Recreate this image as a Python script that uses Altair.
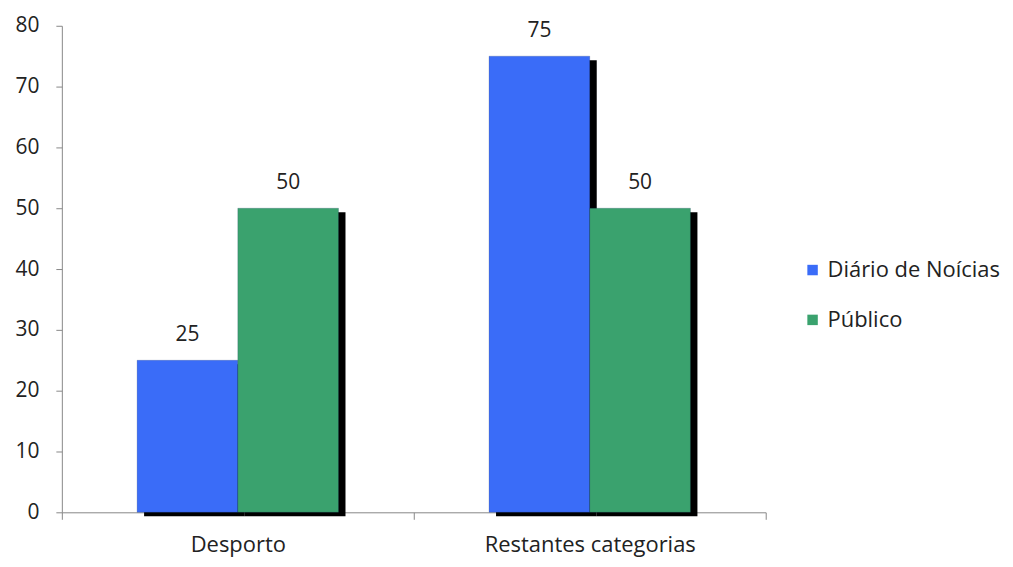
import altair as alt
import pandas as pd

categories = ["Desporto", "Desporto", "Restantes categorias", "Restantes categorias"]
series = ["Diário de Noícias", "Público", "Diário de Noícias", "Público"]
values = [25, 50, 75, 50]
series_order = ["Diário de Noícias", "Público"]
colors = ["#3a6cf8", "#3aa26e"]
y_ticks = [0, 10, 20, 30, 40, 50, 60, 70, 80]

df = pd.DataFrame({"cat": categories, "serie": series, "val": values})

FONT = "Open Sans"

x_enc = alt.X("cat:N", title=None,
              scale=alt.Scale(paddingInner=0, paddingOuter=0),
              axis=alt.Axis(labelAngle=0, tickBand="extent", domainColor="#888888",
                            tickColor="#888888", tickSize=7, labelPadding=15,
                            labelLimit=0,
                            labelFontSize=22, labelColor="#222222", labelFont=FONT))
y_enc = alt.Y("val:Q", title=None,
              scale=alt.Scale(domain=[0, 80], nice=False),
              axis=alt.Axis(values=y_ticks, grid=False, domainColor="#888888",
                            tickColor="#888888", tickSize=6, labelPadding=17,
                            labelFontSize=21, labelColor="#222222", labelFont=FONT))

base = alt.Chart(df).encode(x=x_enc, y=y_enc)

shadow = base.mark_bar(color="black", yOffset=4).encode(
    xOffset=alt.XOffset("serie:N", sort=series_order,
                        scale=alt.Scale(type="band", paddingInner=0,
                                        paddingOuter=0.7475, align=0.5464))
)
front = base.encode(
    xOffset=alt.XOffset("serie:N", sort=series_order,
                        scale=alt.Scale(type="band", paddingInner=0, paddingOuter=0.7475))
)
bars = front.mark_bar(stroke="#1a2a5a", strokeWidth=0.6, strokeOpacity=0.35).encode(
    color=alt.Color("serie:N", sort=series_order, title=None,
                    scale=alt.Scale(domain=series_order, range=colors),
                    legend=alt.Legend(orient="none", legendX=742, legendY=234,
                                      symbolType="square", symbolSize=110,
                                      symbolStrokeWidth=0, labelFontSize=22,
                                      labelFont=FONT, labelColor="#222222",
                                      rowPadding=28, labelOffset=4, labelLimit=0))
)
labels = front.mark_text(dy=-15, fontSize=21, font=FONT, color="#222222",
                         baseline="bottom").encode(text="val:Q")

front_layer = alt.layer(bars, labels)

chart = alt.layer(shadow, front_layer).resolve_scale(xOffset="independent").properties(
    width=706, height=488,
    autosize=alt.AutoSizeParams(type="none"),
    padding={"left": 54, "top": 17, "right": 240, "bottom": 46},
).configure_view(stroke=None).configure_axis(domainWidth=1)

chart.save("out.html", embed_options={"renderer": "svg", "actions": False})
